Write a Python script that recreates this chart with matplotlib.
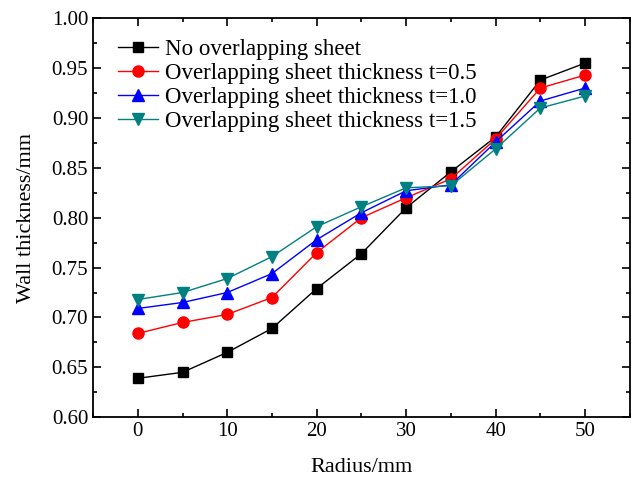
import matplotlib
matplotlib.use("Agg")
import matplotlib.pyplot as plt

plt.rcParams['font.family'] = ['Liberation Serif', 'DejaVu Serif']

# Data
radius = [0, 5, 10, 15, 20, 25, 30, 35, 40, 45, 50]
no_sheet = [0.639, 0.645, 0.665, 0.689, 0.729, 0.764, 0.810, 0.846, 0.881, 0.938, 0.955]
t05 = [0.684, 0.695, 0.703, 0.720, 0.765, 0.800, 0.820, 0.839, 0.879, 0.930, 0.943]
t10 = [0.709, 0.715, 0.725, 0.744, 0.778, 0.805, 0.827, 0.833, 0.876, 0.917, 0.930]
t15 = [0.718, 0.725, 0.739, 0.761, 0.791, 0.811, 0.830, 0.832, 0.869, 0.910, 0.922]

labels = ["No overlapping sheet",
          "Overlapping sheet thickness t=0.5",
          "Overlapping sheet thickness t=1.0",
          "Overlapping sheet thickness t=1.5"]

fig = plt.figure(figsize=(6.33, 4.79), dpi=100)
ax = fig.add_axes([0.147, 0.129, 0.848, 0.833])

ax.plot(radius, no_sheet, color='black', marker='s', markersize=7, lw=1, label=labels[0])
ax.plot(radius, t05, color='red', marker='o', markersize=8, lw=1, label=labels[1])
ax.plot(radius, t10, color='blue', marker='^', markersize=8, lw=1, label=labels[2])
ax.plot(radius, t15, color='#008080', marker='v', markersize=8, lw=1, label=labels[3])

ax.set_xlim(-5, 55)
ax.set_ylim(0.60, 1.00)
ax.set_xticks([0, 10, 20, 30, 40, 50])
ax.set_xticks([-5, 5, 15, 25, 35, 45, 55], minor=True)
ax.set_yticks([0.60, 0.65, 0.70, 0.75, 0.80, 0.85, 0.90, 0.95, 1.00])
ax.set_yticks([0.625, 0.675, 0.725, 0.775, 0.825, 0.875, 0.925, 0.975], minor=True)
ax.yaxis.set_major_formatter(matplotlib.ticker.FormatStrFormatter('%.2f'))

ax.tick_params(which='both', direction='in', top=True, right=True, labelsize=15, width=1.2)
ax.tick_params(which='major', length=6)
ax.tick_params(which='minor', length=3)
for s in ax.spines.values():
    s.set_linewidth(1.3)

ax.set_xlabel("Radius/mm", fontsize=16, labelpad=12)
ax.set_ylabel("Wall thickness/mm", fontsize=16, labelpad=11)

ax.legend(loc='upper left', fontsize=16.5, frameon=False, handlelength=1.75,
          handletextpad=0.3, labelspacing=0.12, borderaxespad=0.3,
          bbox_to_anchor=(0.017, 0.987))

fig.savefig("out.png", dpi=100)
